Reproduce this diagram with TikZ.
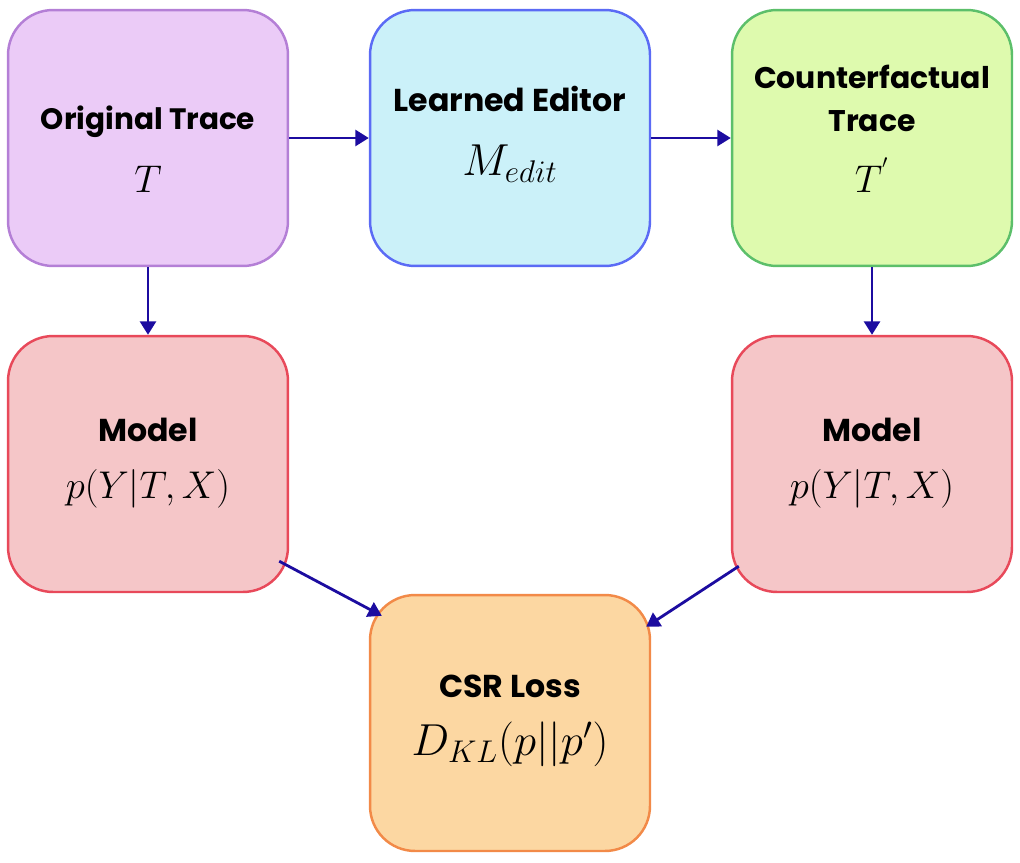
\RequirePackage{fix-cm}
\documentclass[tikz,border=0pt]{standalone}
\usepackage{fontspec}
\setmainfont{Poppins}
\usetikzlibrary{arrows.meta,calc,positioning}

\definecolor{origFill}{HTML}{EBCBF7}
\definecolor{origLine}{HTML}{B47FD6}
\definecolor{editFill}{HTML}{CBF1F9}
\definecolor{editLine}{HTML}{5B6BF5}
\definecolor{cfFill}{HTML}{DEFAAE}
\definecolor{cfLine}{HTML}{5CBF6A}
\definecolor{modelFill}{HTML}{F5C6C8}
\definecolor{modelLine}{HTML}{E8495A}
\definecolor{lossFill}{HTML}{FCD7A2}
\definecolor{lossLine}{HTML}{F28A48}
\definecolor{arrowBlue}{HTML}{1C0CA0}

\begin{document}
\begin{tikzpicture}[x=0.02cm,y=-0.02cm,
  box/.style={rectangle, rounded corners=0.9cm, minimum width=5.6cm,
    minimum height=5.12cm, line width=1.4pt},
  title/.style={anchor=mid, inner sep=0pt, font=\fontsize{18}{22}\selectfont\bfseries},
  formula/.style={anchor=mid, inner sep=0pt, font=\fontsize{22}{26}\selectfont},
  bigformula/.style={formula, font=\fontsize{25.5}{30}\selectfont},
  arr/.style={-{Triangle[length=0.27cm,width=0.32cm]}, line width=1.6pt, arrowBlue}]

  \useasboundingbox (0,0) rectangle (1020,862);

  % Top row: trace, editor, counterfactual trace
  \node[box, draw=origLine, fill=origFill] (orig) at (148,138) {};
  \node[box, draw=editLine, fill=editFill] (edit) at (510,138) {};
  \node[box, draw=cfLine, fill=cfFill] (cf) at (872,138) {};

  \node[title, font=\fontsize{16.8}{20}\selectfont\bfseries] (origT) at ($(orig)+(0,-13)$) {Original Trace};
  \node[formula] (origM) at ($(orig)+(0,50)$) {$T$};
  \node[title] (editT) at ($(edit)+(0,-31)$) {Learned Editor};
  \node[bigformula] (editM) at ($(edit)+(0,33)$) {$M_{edit}$};
  \node[title, font=\fontsize{17}{20}\selectfont\bfseries] (cfT) at ($(cf)+(0,-54)$) {Counterfactual};
  \node[title, font=\fontsize{17}{20}\selectfont\bfseries] (cfT2) at ($(cf)+(0,-11)$) {Trace};
  \node[formula] (cfM) at ($(cf)+(0,50)$) {$T^{'}$};

  % Middle row: the two model calls
  \node[box, draw=modelLine, fill=modelFill] (modL) at (148,464) {};
  \node[box, draw=modelLine, fill=modelFill] (modR) at (872,464) {};

  \node[title] (modLT) at ($(modL)+(0,-27)$) {Model};
  \node[formula] (modLM) at ($(modL)+(0,30)$) {$p(Y|T,X)$};
  \node[title] (modRT) at ($(modR)+(0,-27)$) {Model};
  \node[formula] (modRM) at ($(modR)+(0,30)$) {$p(Y|T,X)$};

  % Bottom: loss
  \node[box, draw=lossLine, fill=lossFill] (loss) at (510,723) {};
  \node[title] (lossT) at ($(loss)+(0,-30)$) {CSR Loss};
  \node[bigformula] (lossM) at ($(loss)+(0,28)$) {$D_{KL}(p||p')$};

  % Connectors
  \draw[arr] (orig.east) -- (edit.west);
  \draw[arr] (edit.east) -- (cf.west);
  \draw[arr] (orig.south) -- (modL.north);
  \draw[arr] (cf.south) -- (modR.north);
  \draw[arr] ($(modL.south east)+(-10,-32)$) -- ($(loss.north west)+(13,22)$);
  \draw[arr] ($(modR.south west)+(8,-27)$) -- ($(loss.north east)+(-5,33)$);

\end{tikzpicture}
\end{document}
